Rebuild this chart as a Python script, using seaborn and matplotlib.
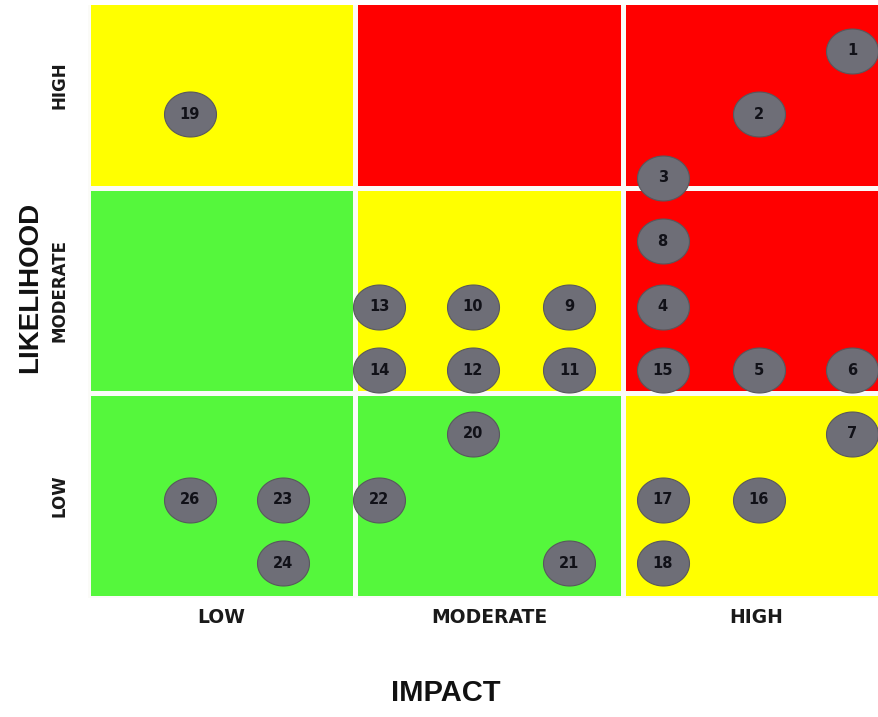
import numpy as np
import pandas as pd
import matplotlib
matplotlib.use("Agg")
import matplotlib.pyplot as plt
from matplotlib.colors import ListedColormap
from matplotlib.path import Path
import seaborn as sns

# Rating levels shared by both axes
levels = ["LOW", "MODERATE", "HIGH"]

# Risk zone of each cell: rows = likelihood (low -> high), columns = impact (low -> high)
# 0 = acceptable, 1 = tolerable, 2 = intolerable
zone_grid = [
    [0, 0, 1],
    [0, 1, 2],
    [1, 2, 2],
]
zone_colors = ["#55f73c", "#ffff00", "#ff0000"]

# Register of assessed risks (scores on a 0-3 scale, one unit per rating band)
risk_ids = [1, 2, 3, 4, 5, 6, 7, 8, 9, 10, 11, 12, 13,
            14, 15, 16, 17, 18, 19, 20, 21, 22, 23, 24, 26]
impact = [2.86, 2.51, 2.15, 2.15, 2.51, 2.86, 2.86, 2.15, 1.80, 1.44, 1.80, 1.44, 1.09,
          1.09, 2.15, 2.51, 2.15, 2.15, 0.38, 1.44, 1.80, 1.09, 0.73, 0.73, 0.38]
likelihood = [2.67, 2.36, 2.05, 1.42, 1.11, 1.11, 0.80, 1.74, 1.42, 1.42, 1.11, 1.11, 1.42,
              1.11, 1.11, 0.48, 0.48, 0.17, 2.36, 0.80, 0.17, 0.48, 0.48, 0.17, 0.48]

risks = pd.DataFrame({"risk": risk_ids, "impact": impact, "likelihood": likelihood})

sns.set_style("white")
fig = plt.figure(figsize=(8.79, 7.17), dpi=100)
ax = fig.add_axes([88 / 879, 119 / 717, 791 / 879, 593 / 717])

# Coloured 3x3 background grid
sns.heatmap(np.array(zone_grid), cmap=ListedColormap(zone_colors), vmin=-0.5, vmax=2.5,
            cbar=False, linewidths=2.2, linecolor="#fbfbf8", ax=ax)
ax.set_xlim(0, 791 / 267.3)
ax.set_ylim(0, 593 / 205)

# Slightly flattened disc marker for each risk
t = np.linspace(0, 2 * np.pi, 121)
disc = Path(np.column_stack([np.cos(t), 0.865 * np.sin(t)]), closed=True)

sns.scatterplot(data=risks, x="impact", y="likelihood", marker=disc, s=1400,
                color="#6e6e77", edgecolor="#58585d", linewidth=0.8,
                legend=False, zorder=3, ax=ax)

for rid, x, y in zip(risks["risk"], risks["impact"], risks["likelihood"]):
    ax.text(x, y, str(rid), ha="center", va="center", fontsize=10.5,
            fontweight="bold", color="#111118", zorder=4)

ax.set_xticks([0.5, 1.5, 2.5])
ax.set_xticklabels(levels, fontsize=13.5, fontweight="bold", color="#1a1a1a", rotation=0)
ax.set_yticks([0.5, 1.5, 2.5])
ax.set_yticklabels(levels, fontsize=12, fontweight="bold", color="#1a1a1a",
                   rotation=90, va="center")
ax.tick_params(axis="x", length=0, pad=7)
ax.tick_params(axis="y", length=0, pad=14)

ax.set_xlabel("IMPACT", fontsize=21, fontweight="bold", family="Liberation Sans", color="#111111")
ax.xaxis.set_label_coords(0.4526, -0.1374)
ax.set_ylabel("LIKELIHOOD", fontsize=20, fontweight="bold", family="Liberation Sans", color="#111111")
ax.yaxis.set_label_coords(-0.0569, 0.523)

for side in ax.spines.values():
    side.set_visible(False)

fig.savefig("out.png", dpi=100)
